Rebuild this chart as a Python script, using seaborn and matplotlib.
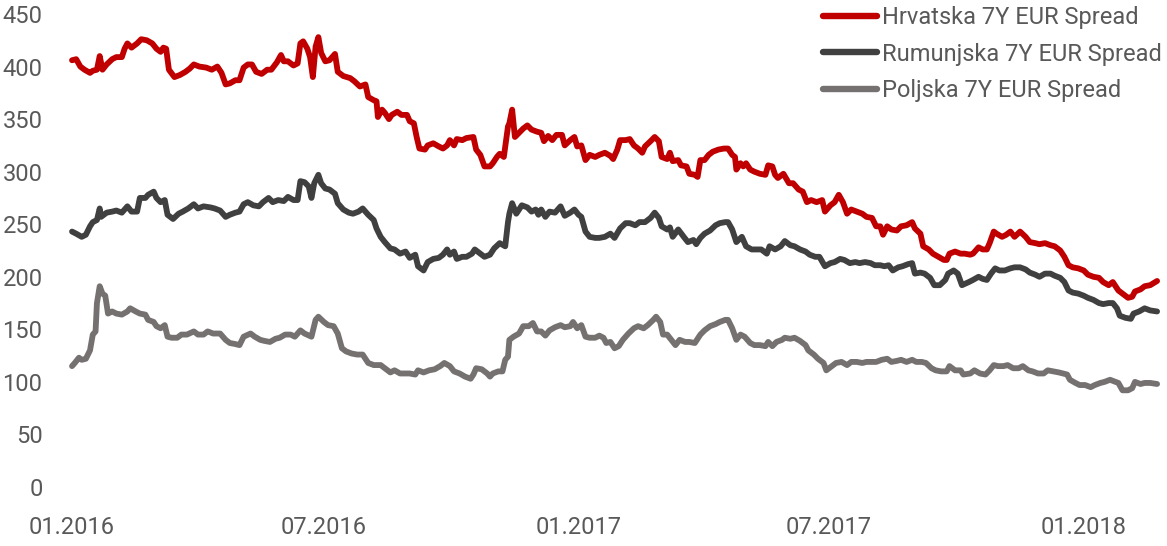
import matplotlib
matplotlib.use("Agg")
import matplotlib.pyplot as plt
import matplotlib.dates as mdates
import pandas as pd
import seaborn as sns

START = pd.Timestamp("2016-01-01")

# days since 01.01.2016 and spread values (bp)
HR_DAYS = [0, 3, 6, 9, 13, 15, 18, 20, 22, 25, 29, 32, 36, 38, 40, 43, 47, 50, 54, 58,
           61, 64, 66, 68, 70, 74, 78, 82, 85, 88, 92, 97, 101, 105, 108, 111, 114, 118, 121, 124,
           127, 130, 133, 137, 141, 144, 148, 151, 153, 156, 160, 163, 165, 167, 170, 172, 174, 176, 178, 180,
           183, 186, 190, 192, 196, 201, 204, 208, 212, 214, 218, 220, 221, 224, 226, 229, 231, 235, 238, 242,
           244, 247, 249, 251, 255, 257, 261, 265, 268, 271, 273, 276, 278, 282, 285, 290, 292, 295, 298, 302,
           304, 307, 309, 312, 315, 316, 318, 320, 323, 326, 329, 332, 336, 339, 341, 344, 347, 350, 354, 356,
           360, 363, 365, 368, 371, 374, 378, 381, 385, 389, 391, 394, 396, 400, 403, 406, 409, 412, 414, 418,
           421, 424, 426, 430, 432, 434, 438, 440, 444, 446, 450, 452, 454, 457, 460, 463, 467, 471, 474, 477,
           479, 480, 483, 485, 487, 490, 493, 497, 501, 503, 506, 508, 510, 514, 518, 521, 525, 528, 531, 534,
           538, 542, 544, 548, 551, 554, 557, 560, 563, 567, 571, 574, 578, 581, 584, 586, 589, 592, 596, 599,
           603, 607, 609, 613, 615, 619, 622, 626, 630, 632, 634, 638, 642, 645, 649, 651, 655, 658, 661, 663,
           666, 668, 672, 675, 678, 681, 685, 689, 692, 696, 699, 703, 707, 710, 714, 717, 720, 723, 727, 731,
           734, 738, 742, 745, 749, 752, 756, 760, 763, 766, 768, 772, 775, 779, 784]
HR_SPREAD = [406, 407, 400, 397, 394, 396, 397, 410, 397, 402, 407, 409, 409, 417, 422, 418, 422, 426, 425, 422,
             417, 414, 418, 417, 397, 390, 392, 395, 398, 402, 400, 399, 397, 400, 394, 383, 384, 387, 387, 399,
             402, 402, 395, 393, 397, 397, 404, 411, 405, 405, 401, 403, 422, 424, 417, 409, 390, 419, 428, 413,
             405, 406, 412, 395, 391, 389, 386, 381, 383, 371, 368, 367, 352, 359, 356, 350, 354, 357, 354, 354,
             348, 346, 333, 322, 321, 325, 327, 324, 322, 325, 330, 325, 331, 330, 332, 333, 321, 316, 305, 305,
             308, 314, 317, 314, 343, 346, 359, 333, 337, 341, 344, 340, 338, 337, 329, 334, 330, 335, 335, 325,
             330, 333, 324, 325, 311, 316, 314, 316, 318, 315, 312, 321, 330, 330, 331, 325, 322, 318, 324, 329,
             333, 329, 314, 312, 318, 310, 311, 306, 305, 298, 297, 295, 311, 311, 316, 319, 321, 322, 322, 316,
             314, 302, 308, 305, 308, 302, 300, 298, 297, 306, 305, 297, 294, 298, 289, 289, 283, 281, 271, 273,
             271, 273, 262, 268, 271, 278, 271, 260, 264, 262, 260, 257, 256, 248, 248, 240, 248, 245, 244, 248,
             249, 252, 246, 241, 229, 226, 222, 219, 216, 216, 222, 224, 222, 222, 221, 222, 228, 226, 226, 232,
             243, 241, 238, 240, 243, 238, 243, 238, 233, 232, 231, 232, 230, 229, 225, 219, 211, 209, 208, 206,
             202, 200, 199, 195, 192, 195, 187, 183, 180, 181, 186, 188, 191, 192, 196]

RO_DAYS = [0, 3, 7, 10, 13, 15, 18, 20, 21, 25, 29, 32, 36, 40, 43, 47, 49, 53, 55, 59,
           61, 64, 67, 69, 73, 77, 80, 84, 88, 91, 95, 100, 103, 107, 111, 114, 118, 121, 124, 127,
           131, 135, 138, 142, 145, 149, 153, 156, 160, 163, 165, 168, 171, 173, 175, 178, 180, 183, 186, 190,
           192, 196, 200, 203, 207, 210, 214, 218, 220, 223, 226, 230, 233, 237, 241, 244, 248, 250, 254, 257,
           261, 265, 268, 271, 273, 276, 278, 282, 285, 289, 291, 295, 298, 302, 305, 309, 313, 315, 316, 318,
           321, 325, 329, 332, 335, 337, 339, 342, 345, 349, 353, 356, 360, 363, 366, 368, 371, 374, 378, 381,
           385, 389, 392, 396, 400, 403, 407, 410, 414, 418, 421, 424, 426, 430, 432, 434, 438, 442, 445, 449,
           451, 454, 457, 461, 465, 468, 472, 474, 477, 480, 484, 487, 491, 495, 498, 502, 504, 508, 512, 515,
           519, 522, 526, 530, 533, 537, 540, 544, 548, 551, 555, 558, 562, 566, 569, 573, 577, 580, 584, 587,
           590, 593, 597, 600, 604, 607, 609, 613, 616, 620, 623, 627, 631, 633, 637, 640, 643, 648, 651, 655,
           658, 661, 664, 667, 670, 674, 678, 681, 685, 689, 692, 696, 699, 703, 707, 710, 714, 717, 720, 723,
           727, 731, 734, 738, 742, 745, 749, 752, 755, 757, 761, 765, 767, 771, 775, 779, 784]
RO_SPREAD = [243, 241, 238, 240, 248, 252, 254, 265, 257, 261, 262, 263, 261, 267, 262, 262, 275, 275, 278, 281,
             275, 271, 273, 259, 255, 260, 262, 265, 269, 265, 267, 266, 265, 263, 257, 259, 261, 262, 269, 271,
             268, 267, 271, 275, 271, 273, 272, 276, 273, 273, 291, 290, 286, 275, 289, 297, 289, 284, 283, 279,
             270, 264, 261, 260, 262, 265, 259, 254, 246, 238, 233, 227, 226, 222, 224, 218, 221, 210, 206, 214,
             217, 218, 221, 226, 221, 224, 217, 219, 219, 222, 226, 222, 219, 221, 227, 232, 229, 252, 260, 270,
             260, 268, 266, 262, 264, 259, 264, 257, 262, 261, 267, 258, 261, 264, 259, 257, 243, 238, 237, 237,
             238, 241, 237, 246, 251, 251, 249, 252, 252, 256, 261, 256, 248, 245, 247, 238, 245, 238, 233, 235,
             231, 237, 241, 244, 249, 251, 252, 252, 245, 233, 238, 229, 226, 226, 226, 222, 229, 226, 229, 234,
             230, 229, 226, 224, 221, 219, 219, 210, 213, 214, 217, 216, 213, 214, 213, 214, 213, 211, 211, 210,
             211, 206, 209, 210, 212, 213, 203, 204, 203, 199, 192, 192, 197, 203, 206, 203, 192, 195, 197, 200,
             198, 197, 203, 208, 206, 206, 208, 209, 209, 207, 204, 202, 200, 203, 203, 201, 199, 195, 187, 185,
             184, 182, 180, 178, 175, 174, 175, 175, 170, 163, 161, 160, 165, 167, 170, 168, 167]

PL_DAYS = [0, 2, 5, 7, 10, 13, 15, 17, 18, 20, 22, 24, 26, 29, 32, 36, 40, 42, 46, 49,
           53, 55, 59, 61, 64, 67, 69, 72, 76, 79, 83, 88, 91, 95, 98, 102, 107, 111, 114, 118,
           121, 124, 129, 132, 136, 139, 143, 147, 150, 154, 158, 161, 165, 168, 173, 176, 178, 182, 185, 189,
           192, 195, 198, 202, 206, 210, 214, 218, 223, 226, 230, 233, 237, 241, 244, 248, 250, 254, 258, 262,
           266, 269, 273, 276, 280, 284, 288, 290, 292, 296, 300, 302, 304, 308, 311, 313, 315, 316, 319, 323,
           326, 330, 333, 336, 339, 342, 345, 349, 353, 356, 360, 362, 365, 368, 371, 374, 378, 381, 384, 386,
           389, 392, 395, 398, 402, 406, 409, 413, 416, 420, 422, 425, 427, 430, 433, 436, 439, 443, 446, 450,
           454, 457, 461, 465, 468, 472, 474, 477, 480, 483, 486, 490, 493, 497, 501, 503, 506, 509, 513, 515,
           519, 522, 526, 530, 532, 536, 539, 543, 545, 549, 552, 556, 560, 563, 567, 571, 574, 578, 581, 585,
           589, 592, 596, 599, 603, 607, 610, 614, 617, 621, 624, 628, 632, 634, 638, 642, 644, 649, 652, 656,
           660, 663, 666, 669, 673, 676, 680, 684, 687, 691, 694, 698, 702, 705, 709, 713, 716, 719, 721, 725,
           728, 732, 736, 739, 743, 746, 750, 754, 756, 759, 763, 766, 768, 772, 775, 779, 784]
PL_SPREAD = [115, 118, 123, 121, 122, 130, 145, 148, 175, 191, 184, 182, 165, 167, 165, 164, 167, 170, 167, 165,
             164, 159, 157, 153, 151, 154, 143, 142, 142, 145, 145, 148, 145, 145, 148, 146, 146, 140, 137, 136,
             135, 143, 146, 143, 140, 139, 138, 141, 142, 145, 145, 143, 149, 146, 143, 159, 162, 157, 154, 153,
             146, 132, 129, 127, 126, 126, 118, 116, 116, 113, 109, 111, 108, 108, 108, 107, 111, 109, 111, 112,
             115, 118, 115, 110, 108, 105, 103, 107, 113, 112, 108, 105, 108, 110, 110, 121, 124, 140, 143, 146,
             153, 153, 156, 148, 148, 144, 149, 152, 154, 152, 153, 157, 151, 154, 143, 142, 142, 144, 142, 137,
             138, 132, 134, 140, 146, 151, 153, 151, 154, 159, 162, 157, 145, 145, 140, 135, 140, 138, 138, 137,
             145, 149, 153, 155, 157, 159, 159, 151, 140, 145, 143, 137, 135, 135, 134, 138, 134, 138, 140, 142,
             141, 142, 139, 135, 130, 126, 122, 118, 111, 115, 118, 119, 116, 119, 119, 118, 119, 119, 119, 121,
             122, 119, 120, 121, 119, 121, 119, 119, 118, 113, 111, 110, 110, 115, 111, 111, 107, 108, 111, 108,
             107, 111, 116, 115, 115, 116, 113, 113, 115, 111, 110, 108, 108, 111, 110, 109, 108, 107, 102, 99,
             97, 97, 95, 97, 99, 100, 102, 100, 99, 92, 92, 94, 100, 98, 99, 99, 98]

SERIES = ["Hrvatska 7Y EUR Spread", "Rumunjska 7Y EUR Spread", "Poljska 7Y EUR Spread"]
COLORS = ["#C00000", "#404040", "#767171"]
X_TICKS = ["2016-01-01", "2016-07-01", "2017-01-01", "2017-07-01", "2018-01-01"]
Y_TICKS = [0, 50, 100, 150, 200, 250, 300, 350, 400, 450]
TEXT_COLOR = "#595959"


def frame(name, days, values):
    return pd.DataFrame({
        "date": START + pd.to_timedelta(days, unit="D"),
        "spread": values,
        "series": name,
    })


df = pd.concat([
    frame(SERIES[0], HR_DAYS, HR_SPREAD),
    frame(SERIES[1], RO_DAYS, RO_SPREAD),
    frame(SERIES[2], PL_DAYS, PL_SPREAD),
], ignore_index=True)

sns.set_theme(style="white")
plt.rcParams["font.family"] = ["Roboto", "DejaVu Sans"]

W, H = 1167, 546
fig = plt.figure(figsize=(W / 100, H / 100), dpi=100)
ax = fig.add_axes([55 / W, 59 / H, 1105 / W, 473 / H])

sns.lineplot(data=df, x="date", y="spread", hue="series", hue_order=SERIES,
             palette=COLORS, linewidth=4.2, estimator=None, ax=ax)
for line in ax.lines:
    line.set_solid_joinstyle("round")
    line.set_solid_capstyle("round")

ax.set_xlim(START - pd.Timedelta(days=12.3), START + pd.Timedelta(days=786.1))
ax.set_ylim(0, 450)
ax.set_xticks(pd.to_datetime(X_TICKS))
ax.xaxis.set_major_formatter(mdates.DateFormatter("%m.%Y"))
ax.set_yticks(Y_TICKS)
ax.set_xlabel("")
ax.set_ylabel("")
ax.tick_params(axis="both", length=0, labelsize=17, labelcolor=TEXT_COLOR)
ax.tick_params(axis="x", pad=21)
ax.tick_params(axis="y", pad=9)
sns.despine(ax=ax, left=True, bottom=True)

old = ax.get_legend()
handles = old.legend_handles
labels = [t.get_text() for t in old.get_texts()]
for h in handles:
    h.set_linewidth(4.6)
    h.set_solid_capstyle("round")
leg = ax.legend(handles, labels, loc="upper right",
                bbox_to_anchor=(1162 / W, 1 - 6 / H), bbox_transform=fig.transFigure,
                frameon=False, fontsize=17, handlelength=2.3, handletextpad=0.2,
                labelspacing=0.58, borderpad=0, borderaxespad=0)
for t in leg.get_texts():
    t.set_color(TEXT_COLOR)

fig.savefig("out.png", dpi=100)
